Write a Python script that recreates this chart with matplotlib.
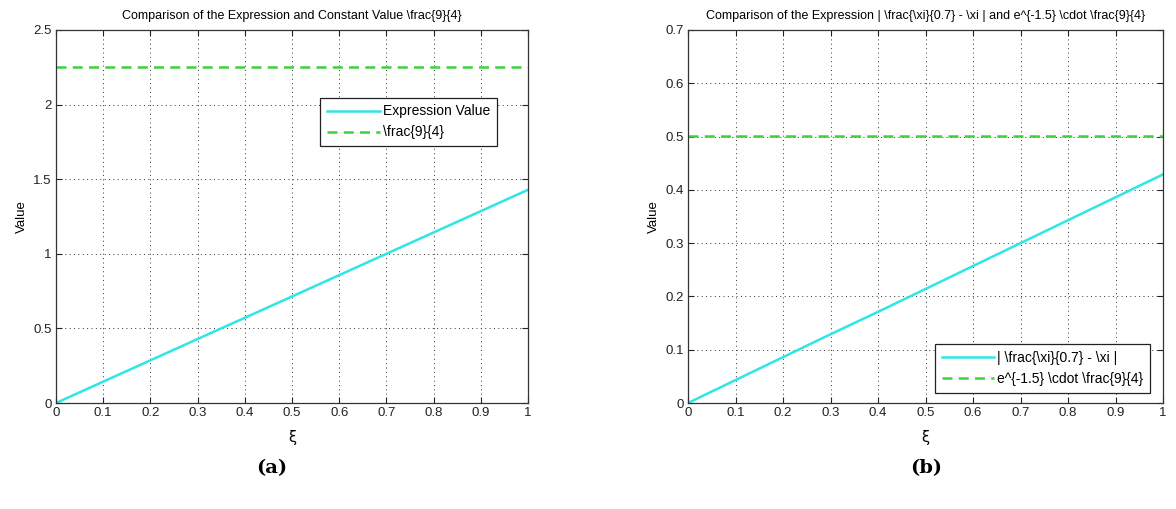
import matplotlib
matplotlib.use("Agg")
import matplotlib.pyplot as plt

# ---------------- Data ----------------
xi = [0.0, 0.1, 0.2, 0.3, 0.4, 0.5, 0.6, 0.7, 0.8, 0.9, 1.0]
expr_a = [0.0, 0.143, 0.286, 0.429, 0.571, 0.714, 0.857, 1.0, 1.143, 1.286, 1.429]
const_a = [2.25] * len(xi)
expr_b = [0.0, 0.043, 0.086, 0.129, 0.171, 0.214, 0.257, 0.300, 0.343, 0.386, 0.429]
const_b = [0.502] * len(xi)

xticks = [0, 0.1, 0.2, 0.3, 0.4, 0.5, 0.6, 0.7, 0.8, 0.9, 1]
xticklabels = ["0", "0.1", "0.2", "0.3", "0.4", "0.5", "0.6", "0.7", "0.8", "0.9", "1"]
yticks_a = [0, 0.5, 1, 1.5, 2, 2.5]
yticklabels_a = ["0", "0.5", "1", "1.5", "2", "2.5"]
yticks_b = [0, 0.1, 0.2, 0.3, 0.4, 0.5, 0.6, 0.7]
yticklabels_b = ["0", "0.1", "0.2", "0.3", "0.4", "0.5", "0.6", "0.7"]

title_a = r"Comparison of the Expression and Constant Value \frac{9}{4}"
title_b = r"Comparison of the Expression | \frac{\xi}{0.7} - \xi | and e^{-1.5} \cdot \frac{9}{4}"
labels_a = ["Expression Value", r"\frac{9}{4}"]
labels_b = [r"| \frac{\xi}{0.7} - \xi |", r"e^{-1.5} \cdot \frac{9}{4}"]

CYAN = "#2fe6e6"
GREEN = "#3cd23c"

# ---------------- Style ----------------
plt.rcParams.update({
    "font.family": "Liberation Sans",
    "font.size": 9,
    "text.usetex": False,
    "axes.unicode_minus": False,
})

fig = plt.figure(figsize=(11.76, 5.09), dpi=100)
W, H = 1176, 509


def make_axes(x0, x1, y0, y1):
    return fig.add_axes([x0 / W, 1 - y1 / H, (x1 - x0) / W, (y1 - y0) / H])


def style(ax, yticks, yticklabels, ymax):
    ax.set_xlim(0, 1)
    ax.set_ylim(0, ymax)
    ax.set_xticks(xticks)
    ax.set_xticklabels(xticklabels)
    ax.set_yticks(yticks)
    ax.set_yticklabels(yticklabels)
    ax.tick_params(direction="in", top=True, right=True, length=4, width=0.8,
                   labelsize=9.5, colors="#222222", pad=3)
    ax.grid(True, linestyle=(0, (1, 3.5)), color="#333333", linewidth=0.7)
    for s in ax.spines.values():
        s.set_color("#333333")
        s.set_linewidth(0.9)
    ax.set_xlabel("ξ", fontsize=10.5, family="DejaVu Sans", labelpad=8)
    ax.set_ylabel("Value", fontsize=9.5, labelpad=4)


def add_legend(ax, loc, anchor):
    leg = ax.legend(loc=loc, bbox_to_anchor=anchor, fontsize=10,
                    handlelength=3.8, fancybox=False, framealpha=1, edgecolor="#222222",
                    borderpad=0.5, labelspacing=0.5, handletextpad=0.2,
                    borderaxespad=0)
    leg.get_frame().set_linewidth(0.9)
    return leg


# ---------------- (a) ----------------
ax1 = make_axes(56, 528, 30, 403)
ax1.plot(xi, expr_a, color=CYAN, linewidth=1.8, label=labels_a[0])
ax1.plot(xi, const_a, color=GREEN, linestyle=(0, (4, 2.5)), linewidth=1.8, label=labels_a[1])
style(ax1, yticks_a, yticklabels_a, 2.5)
ax1.set_title(title_a, fontsize=9, pad=8)
add_legend(ax1, "upper right", (0.934, 0.819))

# ---------------- (b) ----------------
ax2 = make_axes(688, 1163, 30, 403)
ax2.plot(xi, expr_b, color=CYAN, linewidth=1.8, label=labels_b[0])
ax2.plot(xi, const_b, color=GREEN, linestyle=(0, (4, 2.5)), linewidth=1.8, label=labels_b[1])
style(ax2, yticks_b, yticklabels_b, 0.7)
ax2.set_title(title_b, fontsize=9, pad=8)
add_legend(ax2, "lower right", (0.973, 0.027))

# ---------------- captions ----------------
fig.text(272 / W, 1 - 468 / H, "(a)", ha="center", va="center",
         fontsize=14, fontweight="bold", family="DejaVu Serif")
fig.text(926 / W, 1 - 468 / H, "(b)", ha="center", va="center",
         fontsize=14, fontweight="bold", family="DejaVu Serif")

fig.savefig("out.png", dpi=100)
